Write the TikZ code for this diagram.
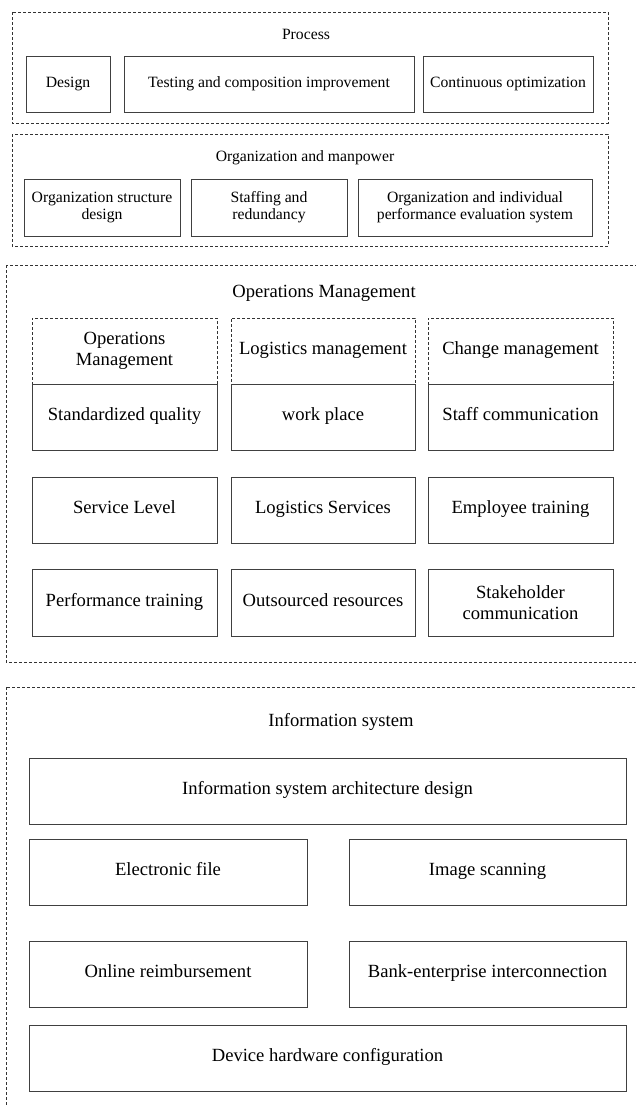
\documentclass[tikz,border=0pt]{standalone}
\usepackage{fontspec}
\setmainfont{Liberation Serif}
\tikzset{
 frame/.style={draw=black!80,line width=0.7pt,dash pattern=on 3pt off 2pt},
 sbox/.style={draw=black!75,line width=0.9pt,minimum height=56pt,inner sep=1pt,align=center,font=\fontsize{15.7}{17}\selectfont,text height=0.95em,text depth=0.2em},
 lbox/.style={draw=black!75,line width=0.9pt,minimum height=66pt,inner sep=1pt,align=center,font=\fontsize{18.6}{21.5}\selectfont,text height=0.95em,text depth=0.2em},
 hbox/.style={lbox,draw=black!80,line width=0.7pt,dash pattern=on 3pt off 2pt},
 twoline/.style={text height=,text depth=},
 stitle/.style={inner sep=0pt,font=\fontsize{15.7}{17}\selectfont},
 ltitle/.style={inner sep=0pt,font=\fontsize{18.6}{21.5}\selectfont}
}
\begin{document}
\begin{tikzpicture}[x=1pt,y=-1pt]
 \useasboundingbox (0,0) rectangle (636,1106);
 \clip (0,0) rectangle (636,1106);
 % process
 \draw [frame] (12,12) rectangle (608,123);
 \node [stitle] (proctitle) at (306,34) {Process};
 \node [sbox,minimum width=84pt] (design) at (68,84) {Design};
 \node [sbox,minimum width=290pt] (testing) at (269,84) {Testing and composition improvement};
 \node [sbox,minimum width=170pt] (contopt) at (508,84) {Continuous optimization};
 % organization
 \draw [frame] (12,134) rectangle (608,246);
 \node [stitle] (orgtitle) at (305,158) {Organization and manpower};
 \node [sbox,twoline,minimum width=156pt,minimum height=57pt] (orgstruct) at (102,207.5) {Organization structure\\design};
 \node [sbox,twoline,minimum width=156pt,minimum height=57pt] (staffing) at (269,207.5) {Staffing and\\redundancy};
 \node [sbox,twoline,minimum width=234pt,minimum height=57pt] (perfeval) at (475,207.5) {Organization and individual\\performance evaluation system};
 % operations
 \draw [frame] (6,265) rectangle (680,662);
 \node [ltitle] (opstitle) at (324,293) {Operations Management};
 \node [hbox,twoline,minimum width=185pt] (opshead) at (124.5,351) {Operations\\Management};
 \node [hbox,minimum width=184pt] (loghead) at (323,351) {Logistics management};
 \node [hbox,minimum width=185pt] (chghead) at (520.5,351) {Change management};
 \node [lbox,minimum width=185pt] (stdqual) at (124.5,417) {Standardized quality};
 \node [lbox,minimum width=184pt] (workplace) at (323,417) {work place};
 \node [lbox,minimum width=185pt] (staffcomm) at (520.5,417) {Staff communication};
 \node [lbox,minimum width=185pt] (servlevel) at (124.5,510) {Service Level};
 \node [lbox,minimum width=184pt] (logserv) at (323,510) {Logistics Services};
 \node [lbox,minimum width=185pt] (emptrain) at (520.5,510) {Employee training};
 \node [lbox,minimum width=185pt,minimum height=67pt] (perftrain) at (124.5,602.5) {Performance training};
 \node [lbox,minimum width=184pt,minimum height=67pt] (outsrc) at (323,602.5) {Outsourced resources};
 \node [lbox,twoline,minimum width=185pt,minimum height=67pt] (stakecomm) at (520.5,602.5) {Stakeholder\\communication};
 % information system
 \draw [frame] (6,687) rectangle (680,1150);
 \node [ltitle] (infotitle) at (341,722) {Information system};
 \node [lbox,minimum width=597pt] (archdesign) at (327.5,791) {Information system architecture design};
 \node [lbox,minimum width=278pt] (efile) at (168,872) {Electronic file};
 \node [lbox,minimum width=277pt] (imgscan) at (487.5,872) {Image scanning};
 \node [lbox,minimum width=278pt] (onlinereimb) at (168,974) {Online reimbursement};
 \node [lbox,minimum width=277pt] (bankconn) at (487.5,974) {Bank-enterprise interconnection};
 \node [lbox,minimum width=597pt] (hardware) at (327.5,1058) {Device hardware configuration};
\end{tikzpicture}
\end{document}
